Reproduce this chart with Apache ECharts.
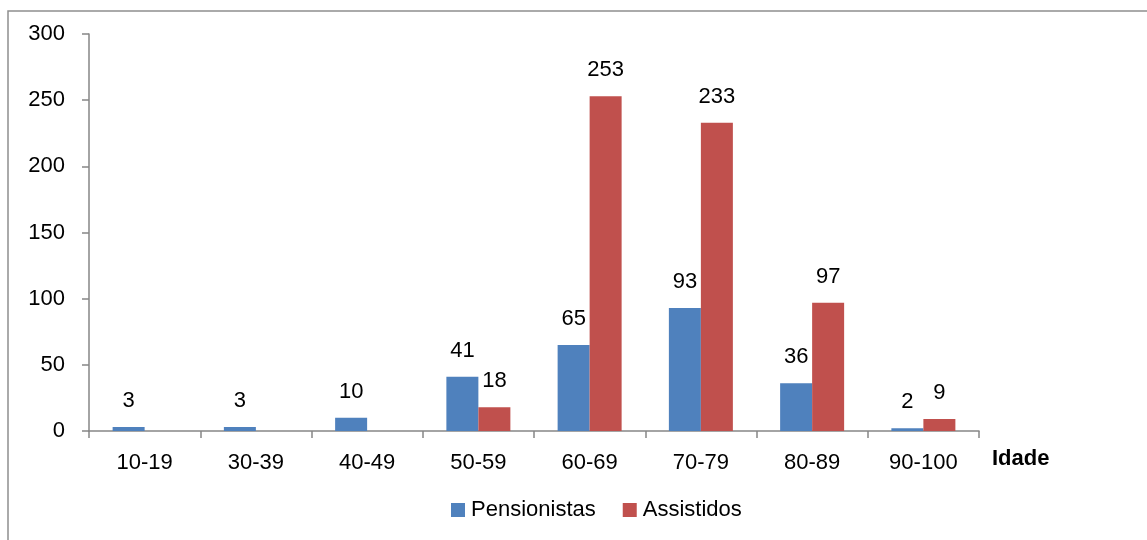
<!DOCTYPE html>
<html><head><meta charset="utf-8">
<script src="https://cdn.jsdelivr.net/npm/echarts@6/dist/echarts.min.js"></script>
<style>html,body{margin:0;padding:0;background:#fff}#c{width:1147px;height:540px}</style>
</head><body><div id="c"></div>
<script>
const categories = ['10-19','30-39','40-49','50-59','60-69','70-79','80-89','90-100'];
const pensionistas = [3,3,10,41,65,93,36,2];
const assistidos = [null,null,null,18,253,233,97,9];
const yTicks = {min:0, max:300, interval:50};
const axisTitle = 'Idade';
const FONT = '"Liberation Sans",Arial,sans-serif';
const FS = 22;
const chart = echarts.init(document.getElementById('c'), null, {renderer:'canvas'});
const labelCfg = {show:true, position:'top', distance:15, color:'#000', fontFamily:FONT, fontSize:FS};
chart.setOption({
  animation:false,
  textStyle:{fontFamily:FONT},
  grid:{left:89, right:168, top:34, bottom:109, containLabel:false},
  legend:{bottom:14, left:446, itemWidth:14, itemHeight:14, itemGap:27, icon:'rect',
    textStyle:{fontFamily:FONT, fontSize:FS, color:'#000', padding:[0,0,0,1]}},
  xAxis:{type:'category', data:categories,
    axisLine:{lineStyle:{color:'#868686', width:1.5}},
    axisTick:{show:true, alignWithLabel:false, length:7, lineStyle:{color:'#868686', width:1.5}},
    axisLabel:{color:'#000', fontFamily:FONT, fontSize:FS, margin:21}},
  yAxis:{type:'value', min:yTicks.min, max:yTicks.max, interval:yTicks.interval,
    axisLine:{show:true, lineStyle:{color:'#868686', width:1.5}},
    axisTick:{show:true, length:7, lineStyle:{color:'#868686', width:1.5}},
    splitLine:{show:false},
    axisLabel:{color:'#000', fontFamily:FONT, fontSize:FS, margin:24}},
  series:[
    {name:'Pensionistas', type:'bar', data:pensionistas, barWidth:32, barGap:'0%',
      itemStyle:{color:'#4F81BD'}, label:labelCfg},
    {name:'Assistidos', type:'bar', data:assistidos, barWidth:32, barGap:'0%',
      itemStyle:{color:'#C0504D'}, label:labelCfg}
  ],
  graphic:[
    {type:'polyline', shape:{points:[[8,540],[8,11],[1147,11]]},
      style:{stroke:'#8f8f8f', lineWidth:1.5, fill:null}},
    {type:'text', left:992, top:448,
      style:{text:axisTitle, fontFamily:FONT, fontSize:FS, fontWeight:'bold', fill:'#000'}}
  ]
});
</script></body></html>
